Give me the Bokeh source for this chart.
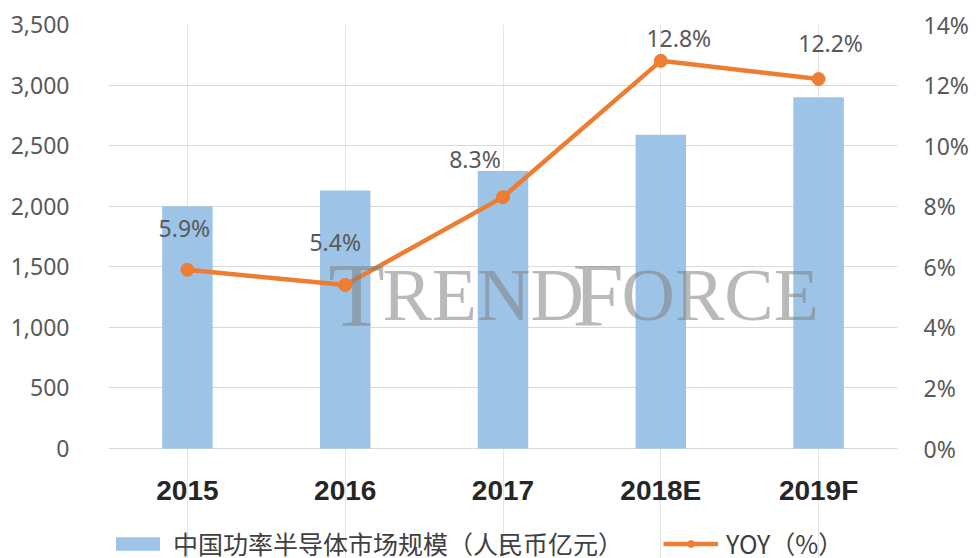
from bokeh.plotting import figure
from bokeh.models import (Range1d, FactorRange, LinearAxis, FixedTicker,
                          NumeralTickFormatter, PrintfTickFormatter, Legend, LegendItem,
                          ColumnDataSource, Label)
from bokeh.core.properties import value
from bokeh.embed import file_html
from bokeh.resources import INLINE

# ---- data ----
years = ["2015", "2016", "2017", "2018E", "2019F"]
market_size = [2000, 2130, 2290, 2590, 2900]          # 亿元
yoy = [5.9, 5.4, 8.3, 12.8, 12.2]                      # %
yoy_labels = ["5.9%", "5.4%", "8.3%", "12.8%", "12.2%"]
left_ticks = [0, 500, 1000, 1500, 2000, 2500, 3000, 3500]
right_ticks = [0, 2, 4, 6, 8, 10, 12, 14]
series_names = ["中国功率半导体市场规模（人民币亿元）", "YOY（%）"]

# layout (style): frame 24..448 px holds 0..3500; extra room below for labels/legend
TOP_PX, ZERO_PX, H = 24, 448, 558
left_max = left_ticks[-1]
right_max = right_ticks[-1]
below_frac = (H - ZERO_PX) / (ZERO_PX - TOP_PX)
left_min = -left_max * below_frac
right_min = -right_max * below_frac

# label offsets (style, screen px)
lab_dx = [-3, -10, -28, 18, 12]
lab_dy = [-42, -43, -38, -23, -36]

BAR_COLOR = "#9DC3E6"
LINE_COLOR = "#ED7D31"

src = ColumnDataSource(dict(year=years, mkt=market_size, yoy=yoy, lab=yoy_labels,
                            dx=lab_dx, dy=lab_dy))

p = figure(x_range=FactorRange(*years), y_range=Range1d(left_min, left_max),
           width=978, height=H, output_backend="svg", toolbar_location=None,
           x_axis_location=None,
           min_border_left=108, min_border_right=81, min_border_top=TOP_PX,
           min_border_bottom=0)
p.extra_y_ranges = {"pct": Range1d(right_min, right_max)}
p.outline_line_color = None

bars = p.vbar(x="year", top="mkt", width=0.32, source=src,
              fill_color=BAR_COLOR, line_color=None)
line = p.line(x="year", y="yoy", source=src, y_range_name="pct",
              line_color=LINE_COLOR, line_width=4.5)
dots = p.scatter(x="year", y="yoy", source=src, y_range_name="pct",
                 size=13, fill_color=LINE_COLOR, line_color=LINE_COLOR)
p.text(x="year", y="yoy", text="lab", source=src, y_range_name="pct",
       x_offset="dx", y_offset="dy", text_align="center", text_baseline="middle",
       text_font=value("Noto Sans"), text_font_size="23px", text_color="#595959")

# category labels under the baseline
p.text(x="year", y=0, text="year", source=src, y_offset=42,
       text_align="center", text_baseline="middle",
       text_font=value("Liberation Sans"), text_font_style="bold",
       text_font_size="28px", text_color="#262626")

# watermark
wm_color = "#7f7f7f"
for txt, xx, fs in [("T", 1.394, "92px"), ("REND", 1.736, "74px"),
                    ("F", 2.94, "92px"), ("ORCE", 3.251, "74px")]:
    p.add_layout(Label(x=xx, y=1270, text=txt, text_font="Liberation Serif",
                       text_font_size=fs, text_color=wm_color, text_alpha=0.55,
                       text_baseline="alphabetic", text_align="left"))

# axes
p.yaxis.ticker = FixedTicker(ticks=left_ticks)
p.yaxis.formatter = NumeralTickFormatter(format="0,0")
p.yaxis.axis_line_color = None
p.yaxis.major_tick_line_color = None
p.yaxis.minor_tick_line_color = None
p.yaxis.major_label_text_font = "Noto Sans"
p.yaxis.major_label_text_font_size = "23px"
p.yaxis.major_label_text_color = "#595959"
p.yaxis.major_label_standoff = 33

ry = LinearAxis(y_range_name="pct", ticker=FixedTicker(ticks=right_ticks),
                formatter=PrintfTickFormatter(format="%d%%"))
ry.axis_line_color = None
ry.major_tick_line_color = None
ry.minor_tick_line_color = None
ry.major_label_text_font = "Noto Sans"
ry.major_label_text_font_size = "23px"
ry.major_label_text_color = "#595959"
ry.major_label_standoff = 20
p.add_layout(ry, "right")

p.ygrid.grid_line_color = "#d9d9d9"
p.ygrid.grid_line_width = 1.2

legend = Legend(items=[LegendItem(label=series_names[0], renderers=[bars]),
                       LegendItem(label=series_names[1], renderers=[line, dots])],
                orientation="horizontal", location=(2, -3),
                label_text_font="Noto Sans CJK SC", label_text_font_size="25px",
                label_text_color="#404040", glyph_width=55, glyph_height=17,
                spacing=40, label_standoff=8, border_line_color=None,
                padding=0, margin=0, background_fill_alpha=0)
p.add_layout(legend)

open("out.html", "w").write(file_html(p, INLINE))
